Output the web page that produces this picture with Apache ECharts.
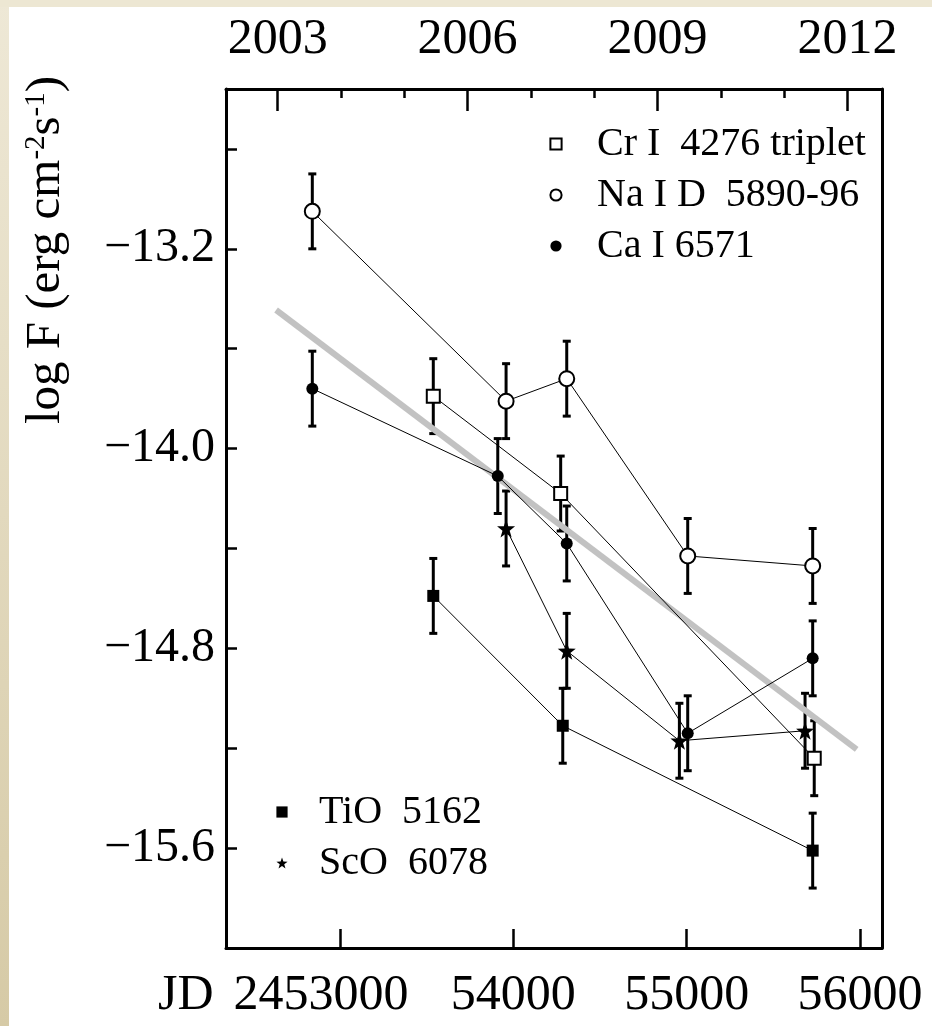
<!DOCTYPE html>
<html>
<head>
<meta charset="utf-8">
<title>log F vs JD</title>
<script src="https://cdn.jsdelivr.net/npm/echarts@6/dist/echarts.min.js"></script>
<style>
  html, body { margin: 0; padding: 0; background: #fff; }
  #chart { width: 932px; height: 1026px; }
</style>
</head>
<body>
<div id="chart"></div>
<script>
// x values are JD - 2450000
var crJd = [3538, 4273, 5736]
var crFlux = [-13.79, -14.18, -15.24]
var crErr = [0.15, 0.15, 0.15]

var naJd = [2840, 3958, 4308, 5006, 5727]
var naFlux = [-13.05, -13.81, -13.72, -14.43, -14.47]
var naErr = [0.15, 0.15, 0.15, 0.15, 0.15]

var caJd = [2840, 3910, 4308, 5006, 5727]
var caFlux = [-13.76, -14.11, -14.38, -15.14, -14.84]
var caErr = [0.15, 0.15, 0.15, 0.15, 0.15]

var tioJd = [3538, 4285, 5727]
var tioFlux = [-14.59, -15.11, -15.61]
var tioErr = [0.15, 0.15, 0.15]

var scoJd = [3958, 4308, 4958, 5683]
var scoFlux = [-14.32, -14.81, -15.17, -15.13]
var scoErr = [0.15, 0.15, 0.15, 0.15]

// grey fitted trend
var trendJd = [2631, 5981]
var trendFlux = [-13.445, -15.205]

var jdTicks = [3000, 4000, 5000, 6000]
var yearTicks = [2003, 2004, 2005, 2006, 2007, 2008, 2009, 2010, 2011, 2012]
var yearLabels = [2003, 2006, 2009, 2012]
var fluxTicks = [-12.8, -13.2, -13.6, -14.0, -14.4, -14.8, -15.2, -15.6]
var fluxLabels = [-13.2, -14.0, -14.8, -15.6]

var jdMin = 2342
var jdMax = 6127
var fluxMin = -16.0
var fluxMax = -12.56
var serif = 'Liberation Serif'
var starPath = 'path://M0,-10L2.35,-3.24L9.51,-3.09L3.8,1.24L5.88,8.09L0,4L-5.88,8.09L-3.8,1.24L-9.51,-3.09L-2.35,-3.24Z'

function yearOf(jd) {
  return 2000 + (jd + 2450000 - 2451544.5) / 365.25
}

function pairs(xs, ys) {
  return xs.map(function (x, i) { return [x, ys[i]] })
}

function drawErrorBar(params, api) {
  var x = api.value(0), y = api.value(1), e = api.value(2)
  var hi = api.coord([x, y + e])
  var lo = api.coord([x, y - e])
  var cap = 4
  function seg(x1, y1, x2, y2) {
    return { type: 'line', shape: { x1: x1, y1: y1, x2: x2, y2: y2 }, style: { stroke: '#000', lineWidth: 3 } }
  }
  return {
    type: 'group',
    children: [
      seg(hi[0], hi[1], lo[0], lo[1]),
      seg(hi[0] - cap, hi[1], hi[0] + cap, hi[1]),
      seg(lo[0] - cap, lo[1], lo[0] + cap, lo[1])
    ]
  }
}

function errorBars(name, xs, ys, es) {
  return {
    type: 'custom',
    name: name,
    z: 1,
    silent: true,
    renderItem: drawErrorBar,
    encode: { x: 0, y: 1 },
    data: xs.map(function (x, i) { return [x, ys[i], es[i]] })
  }
}

function dataLine(name, xs, ys, symbol, size, fill) {
  return {
    type: 'line',
    name: name,
    z: 3,
    silent: true,
    symbol: symbol,
    symbolSize: size,
    data: pairs(xs, ys),
    lineStyle: { color: '#000', width: 1 },
    itemStyle: { color: fill, borderColor: '#000', borderWidth: fill === '#fff' ? 2 : 0 },
    emphasis: { disabled: true }
  }
}

var chart = echarts.init(document.getElementById('chart'))

chart.setOption({
  animation: false,
  backgroundColor: '#fff',
  grid: { left: 226, top: 89, width: 656, height: 859 },
  graphic: [
    {
      type: 'rect', left: 0, top: 0, z: -10,
      shape: { width: 9, height: 1026 },
      style: { fill: new echarts.graphic.LinearGradient(0, 0, 0, 1, [
        { offset: 0, color: '#eee8d6' }, { offset: 1, color: '#d6caa6' }
      ]) }
    },
    {
      type: 'rect', left: 0, top: 0, z: -10,
      shape: { width: 932, height: 7 },
      style: { fill: '#ede7d3' }
    },
    {
      type: 'text', x: 46, y: 250, rotation: Math.PI / 2,
      style: {
        text: '{a|log F (erg cm}{s|-2}{a|s}{s|-1}{a|)}',
        align: 'center',
        verticalAlign: 'middle',
        rich: {
          a: { fontFamily: serif, fontSize: 49, fill: '#000' },
          s: { fontFamily: serif, fontSize: 29, fill: '#000', verticalAlign: 'top' }
        }
      }
    },
    {
      // prefix of the first JD label
      type: 'text', x: 158, y: 971,
      style: { text: 'JD', fontFamily: serif, fontSize: 50, fill: '#000', align: 'left', verticalAlign: 'top' }
    }
  ],
  legend: [
    {
      data: ['Cr I  4276 triplet', 'Na I D  5890-96', 'Ca I 6571'],
      orient: 'vertical',
      left: 519, top: 124, padding: 0,
      itemWidth: 72, itemHeight: 14, itemGap: 11,
      selectedMode: false,
      lineStyle: { color: 'rgba(0,0,0,0)' },
      textStyle: { fontFamily: serif, fontSize: 40, color: '#000' }
    },
    {
      data: ['TiO  5162', 'ScO  6078'],
      orient: 'vertical',
      left: 249, top: 792, padding: 0,
      itemWidth: 64, itemHeight: 14, itemGap: 11,
      selectedMode: false,
      lineStyle: { color: 'rgba(0,0,0,0)' },
      textStyle: { fontFamily: serif, fontSize: 40, color: '#000' }
    }
  ],
  xAxis: [
    {
      type: 'value', position: 'bottom', min: jdMin, max: jdMax,
      axisLine: { show: true, onZero: false, lineStyle: { color: '#000', width: 3 } },
      axisTick: { show: true, inside: true, length: 19, customValues: jdTicks, lineStyle: { color: '#000', width: 2.5 } },
      axisLabel: {
        customValues: jdTicks, margin: 23,
        showMinLabel: true, showMaxLabel: true,
        fontFamily: serif, fontSize: 50, color: '#000',
        formatter: function (v) {
          var s = String(2450000 + v)
          return v === jdTicks[0] ? '{n|' + s + '}{p|}' : '{n|' + s.slice(2) + '}'
        },
        rich: {
          n: { fontFamily: serif, fontSize: 50, color: '#000' },
          p: { width: 38 }
        }
      },
      splitLine: { show: false }
    },
    {
      type: 'value', position: 'top', min: yearOf(jdMin), max: yearOf(jdMax),
      axisLine: { show: true, onZero: false, lineStyle: { color: '#000', width: 3 } },
      axisTick: { show: true, inside: true, length: 22, customValues: yearLabels, lineStyle: { color: '#000', width: 2.5 } },
      axisLabel: {
        customValues: yearLabels, margin: 24,
        fontFamily: serif, fontSize: 50, color: '#000',
        formatter: function (v) { return String(Math.round(v)) }
      },
      splitLine: { show: false }
    },
    {
      type: 'value', position: 'top', min: yearOf(jdMin), max: yearOf(jdMax),
      axisLine: { show: false },
      axisTick: { show: true, inside: true, length: 9, customValues: yearTicks, lineStyle: { color: '#000', width: 2.5 } },
      axisLabel: { show: false },
      splitLine: { show: false }
    }
  ],
  yAxis: [
    {
      type: 'value', position: 'left', min: fluxMin, max: fluxMax,
      axisLine: { show: true, onZero: false, lineStyle: { color: '#000', width: 3 } },
      axisTick: { show: true, inside: true, length: 11, customValues: fluxTicks, lineStyle: { color: '#000', width: 2.5 } },
      axisLabel: {
        customValues: fluxLabels, margin: 11,
        fontFamily: serif, fontSize: 48, color: '#000',
        formatter: function (v) { return '\u2212' + Math.abs(v).toFixed(1) }
      },
      splitLine: { show: false }
    },
    {
      type: 'value', position: 'right', min: fluxMin, max: fluxMax,
      axisLine: { show: true, onZero: false, lineStyle: { color: '#000', width: 3 } },
      axisTick: { show: false },
      axisLabel: { show: false },
      splitLine: { show: false }
    }
  ],
  series: [
    {
      type: 'line', name: 'trend', z: 2, silent: true,
      symbol: 'none',
      data: pairs(trendJd, trendFlux),
      lineStyle: { color: '#c2c2c2', width: 6 }
    },
    errorBars('crErr', crJd, crFlux, crErr),
    errorBars('naErr', naJd, naFlux, naErr),
    errorBars('caErr', caJd, caFlux, caErr),
    errorBars('tioErr', tioJd, tioFlux, tioErr),
    errorBars('scoErr', scoJd, scoFlux, scoErr),
    dataLine('Cr I  4276 triplet', crJd, crFlux, 'rect', 13, '#fff'),
    dataLine('Na I D  5890-96', naJd, naFlux, 'circle', 15, '#fff'),
    dataLine('Ca I 6571', caJd, caFlux, 'circle', 12, '#000'),
    dataLine('TiO  5162', tioJd, tioFlux, 'rect', 12, '#000'),
    dataLine('ScO  6078', scoJd, scoFlux, starPath, 18, '#000')
  ]
})
</script>
</body>
</html>
